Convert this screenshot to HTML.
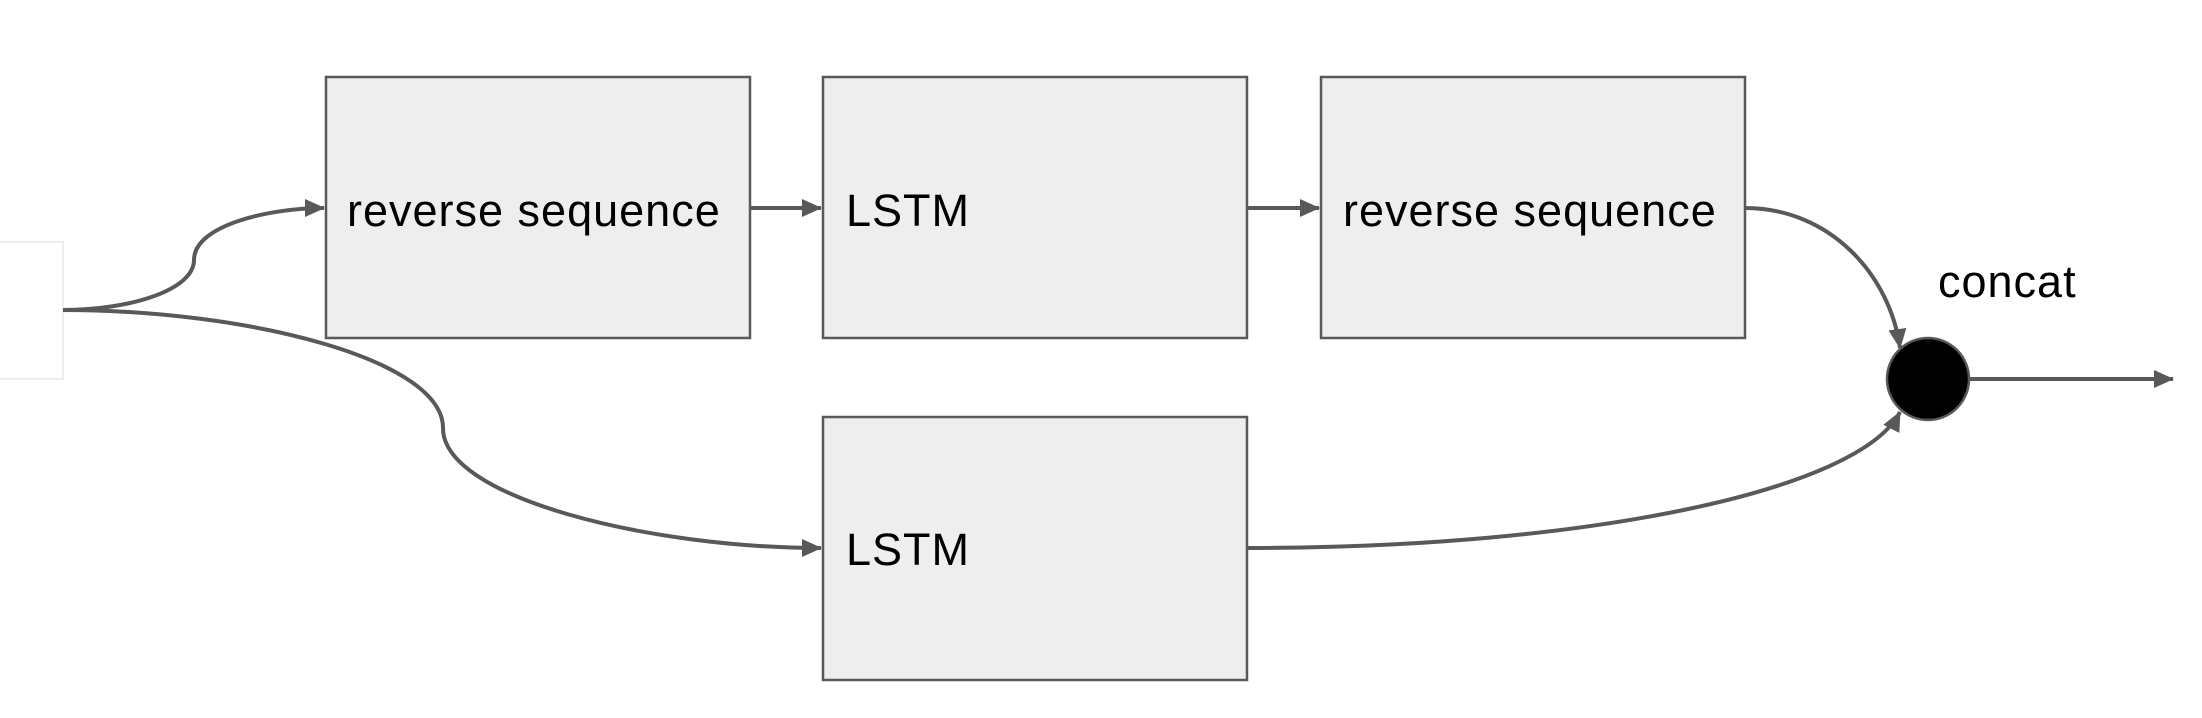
<!DOCTYPE html>
<html><head><style>
html,body{margin:0;padding:0;background:#fff;}
svg{display:block;}
text{font-family:"Liberation Sans",Arial,sans-serif;fill:#000;}
</style></head><body>
<svg width="2202" height="718" viewBox="0 0 2202 718" xmlns="http://www.w3.org/2000/svg">
<defs>
<marker id="b" markerWidth="20" markerHeight="18" refX="19" refY="9" orient="auto" markerUnits="userSpaceOnUse" viewBox="0 0 20 18">
<path d="M0,0 L20,9 L0,18 z" fill="#595959"/>
</marker>
</defs>
<rect x="-2" y="242" width="65" height="137" fill="#fff" stroke="#eeeeee" stroke-width="2"/>
<g fill="#eeeeee" stroke="#595959" stroke-width="2.5">
<rect x="326" y="77" width="424" height="261"/>
<rect x="823" y="77" width="424" height="261"/>
<rect x="1321" y="77" width="424" height="261"/>
<rect x="823" y="417" width="424" height="263"/>
</g>
<g fill="none" stroke="#595959" stroke-width="4">
<path d="M63,310 C130,310 194,290 194,260 C194,225 270,208 324,208" marker-end="url(#b)"/>
<path d="M63,310 C250,310 443,360 443,428 C443,498 650,548 821,548" marker-end="url(#b)"/>
<path d="M750,208 L821,208" marker-end="url(#b)"/>
<path d="M1247,208 L1319,208" marker-end="url(#b)"/>
<path d="M1745,208 C1830,208 1890,275 1900,348" marker-end="url(#b)"/>
<path d="M1247,548 C1590,548 1860,490 1900,412" marker-end="url(#b)"/>
<path d="M1969,379 L2173,379" marker-end="url(#b)"/>
</g>
<ellipse cx="1928" cy="379" rx="41" ry="41" fill="#000" stroke="#595959" stroke-width="2.5"/>
<g font-size="45" letter-spacing="1">
<text x="347" y="226">reverse sequence</text>
<text x="846" y="226">LSTM</text>
<text x="1343" y="226">reverse sequence</text>
<text x="846" y="565">LSTM</text>
<text x="1938" y="297">concat</text>
</g>
</svg>
</body></html>
